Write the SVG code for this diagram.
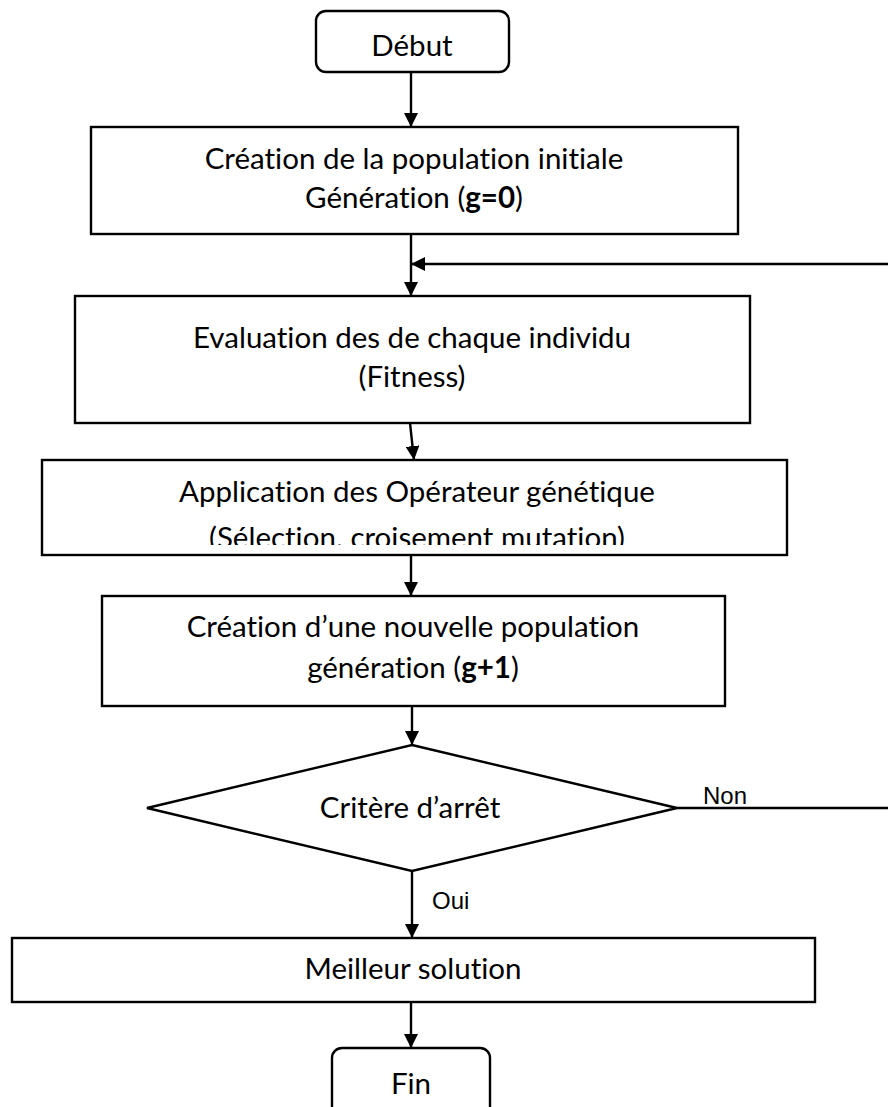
<svg xmlns="http://www.w3.org/2000/svg" width="888" height="1107" viewBox="0 0 888 1107">
  <style>
    .box { fill: #ffffff; stroke: #000000; stroke-width: 2.4; }
    .line { fill: none; stroke: #000000; stroke-width: 2.4; }
    .t { font-family: Lato, "Open Sans", "Liberation Sans", sans-serif; font-size: 29.5px; fill: #000000; text-anchor: middle; font-variant-ligatures: none; }
    .lbl { font-family: "Liberation Sans", Arial, sans-serif; font-size: 24px; fill: #000000; }
    .b { font-weight: bold; }
  </style>
  <defs>
    <marker id="arrow" viewBox="0 0 14 14" refX="14" refY="7" markerWidth="14" markerHeight="14" markerUnits="userSpaceOnUse" orient="auto">
      <path d="M0,0 L14,7 L0,14 Z" fill="#000000"/>
    </marker>
    <clipPath id="clipOps">
      <rect x="42" y="460" width="745" height="85"/>
    </clipPath>
  </defs>
  <rect width="888" height="1107" fill="#ffffff"/>

  <!-- connectors -->
  <g id="connectors">
    <line class="line" x1="411" y1="72" x2="411" y2="127" marker-end="url(#arrow)"/>
    <line class="line" x1="411" y1="234" x2="411" y2="296" marker-end="url(#arrow)"/>
    <line class="line" x1="888" y1="264" x2="411" y2="264" marker-end="url(#arrow)"/>
    <line class="line" x1="410" y1="423" x2="414" y2="460" marker-end="url(#arrow)"/>
    <line class="line" x1="411" y1="555" x2="411" y2="596" marker-end="url(#arrow)"/>
    <line class="line" x1="412" y1="706" x2="412" y2="745" marker-end="url(#arrow)"/>
    <line class="line" x1="677" y1="808" x2="888" y2="808"/>
    <text class="lbl" x="703" y="804">Non</text>
    <line class="line" x1="412" y1="871" x2="412" y2="938" marker-end="url(#arrow)"/>
    <text class="lbl" x="432" y="909">Oui</text>
    <line class="line" x1="411" y1="1002" x2="411" y2="1048" marker-end="url(#arrow)"/>
  </g>

  <g id="debut">
    <rect class="box" x="316" y="11" width="193" height="61" rx="10"/>
    <text class="t" x="412" y="56">Début</text>
  </g>

  <g id="init">
    <rect class="box" x="91" y="127" width="647" height="107"/>
    <text class="t" x="414" y="169">Création de la population initiale</text>
    <text class="t" x="414" y="208">Génération (<tspan class="b">g=0</tspan>)</text>
  </g>

  <g id="eval">
    <rect class="box" x="75" y="296" width="675" height="127"/>
    <text class="t" x="412" y="348">Evaluation des de chaque individu</text>
    <text class="t" x="412" y="387">(Fitness)</text>
  </g>

  <g id="ops">
    <rect class="box" x="42" y="460" width="745" height="95"/>
    <g clip-path="url(#clipOps)">
      <text class="t" x="417" y="502">Application des Opérateur génétique</text>
      <text class="t" x="417" y="548">(Sélection. croisement mutation)</text>
    </g>
  </g>

  <g id="newpop">
    <rect class="box" x="102" y="596" width="623" height="110"/>
    <text class="t" x="413" y="637">Création d’une nouvelle population</text>
    <text class="t" x="413" y="678">génération (<tspan class="b">g+1</tspan>)</text>
  </g>

  <g id="stop">
    <polygon class="box" points="412,745 677,808 412,871 147,808"/>
    <text class="t" x="410" y="818">Critère d’arrêt</text>
  </g>

  <g id="best">
    <rect class="box" x="12" y="938" width="803" height="64"/>
    <text class="t" x="413" y="979">Meilleur solution</text>
  </g>

  <g id="fin">
    <rect class="box" x="332" y="1048" width="158" height="90" rx="10"/>
    <text class="t" x="411" y="1094">Fin</text>
  </g>
</svg>
